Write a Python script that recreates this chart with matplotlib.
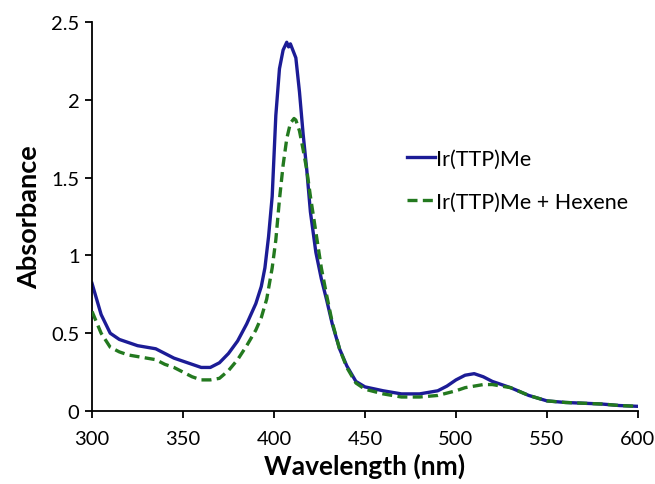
import matplotlib.pyplot as plt
from matplotlib.ticker import FuncFormatter

plt.rcParams['font.family'] = ['Lato', 'DejaVu Sans']

wavelength_blue = [300, 305, 310, 315, 320, 325, 330, 335, 340, 345, 350, 355,
                   360, 365, 370, 375, 380, 385, 390, 393, 395, 397, 399, 401,
                   403, 405, 407, 408, 409, 410, 412, 414, 416, 418, 420, 423,
                   426, 429, 432, 436, 440, 445, 450, 460, 470, 480, 490, 495,
                   500, 505, 510, 515, 520, 525, 530, 540, 550, 560, 570, 580,
                   590, 600]

ir_ttp_me = [0.82, 0.62, 0.50, 0.46, 0.44, 0.42, 0.41, 0.40, 0.37, 0.34, 0.32,
             0.30, 0.28, 0.28, 0.31, 0.37, 0.45, 0.56, 0.69, 0.80, 0.92, 1.12,
             1.38, 1.90, 2.20, 2.32, 2.37, 2.34, 2.36, 2.33, 2.27, 2.05, 1.78,
             1.55, 1.28, 1.02, 0.85, 0.71, 0.56, 0.40, 0.29, 0.19, 0.155, 0.13,
             0.11, 0.11, 0.13, 0.16, 0.20, 0.23, 0.24, 0.22, 0.19, 0.17, 0.15,
             0.10, 0.065, 0.055, 0.05, 0.045, 0.035, 0.03]

wavelength_green = [300, 305, 310, 315, 320, 325, 330, 335, 340, 345, 350, 355,
                    360, 365, 370, 375, 380, 385, 390, 393, 396, 399, 401, 403,
                    405, 407, 409, 411, 412, 414, 416, 418, 420, 423, 426, 429,
                    432, 436, 440, 445, 450, 460, 470, 480, 490, 495, 500, 505,
                    510, 515, 520, 525, 530, 540, 550, 560, 570, 580, 590, 600]

ir_ttp_me_hexene = [0.64, 0.50, 0.41, 0.38, 0.36, 0.35, 0.34, 0.33, 0.30, 0.28,
                    0.25, 0.22, 0.20, 0.20, 0.21, 0.26, 0.33, 0.42, 0.52, 0.60,
                    0.72, 0.92, 1.10, 1.36, 1.58, 1.75, 1.85, 1.88, 1.87, 1.80,
                    1.68, 1.55, 1.38, 1.15, 0.92, 0.74, 0.57, 0.40, 0.28, 0.18,
                    0.14, 0.11, 0.09, 0.09, 0.10, 0.115, 0.13, 0.15, 0.16, 0.17,
                    0.17, 0.16, 0.15, 0.10, 0.065, 0.055, 0.05, 0.045, 0.035, 0.03]

x_ticks = [300, 350, 400, 450, 500, 550, 600]
y_ticks = [0, 0.5, 1, 1.5, 2, 2.5]

fig = plt.figure(figsize=(6.55, 4.85), dpi=100)
ax = fig.add_axes([0.1405, 0.1505, 0.8335, 0.802])

ax.plot(wavelength_blue, ir_ttp_me, color="#1c1c96", lw=2.4, label="Ir(TTP)Me", zorder=2)
ax.plot(wavelength_green, ir_ttp_me_hexene, color="#23791f", lw=2.4, dashes=(3, 1.6),
        label="Ir(TTP)Me + Hexene", zorder=3)

ax.set_xlim(300, 600)
ax.set_ylim(0, 2.5)
ax.set_xticks(x_ticks)
ax.set_yticks(y_ticks)
ax.yaxis.set_major_formatter(FuncFormatter(lambda v, p: f"{v:g}"))

for side in ["top", "right"]:
    ax.spines[side].set_visible(False)
for side in ["left", "bottom"]:
    ax.spines[side].set_linewidth(1.3)
    ax.spines[side].set_color("black")
ax.tick_params(direction="out", length=5, width=1.3, labelsize=14.5, colors="black")
ax.tick_params(axis="x", pad=9)
ax.tick_params(axis="y", pad=4)

ax.set_xlabel("Wavelength (nm)", fontsize=19, fontweight="bold", labelpad=4)
ax.set_ylabel("Absorbance", fontsize=19.5, fontweight="bold", labelpad=7)

ax.legend(loc="upper left", bbox_to_anchor=(0.542, 0.724), frameon=False, fontsize=15.5,
          handlelength=1.3, handletextpad=0.05, labelspacing=1.08)

fig.savefig("out.png", dpi=100)
